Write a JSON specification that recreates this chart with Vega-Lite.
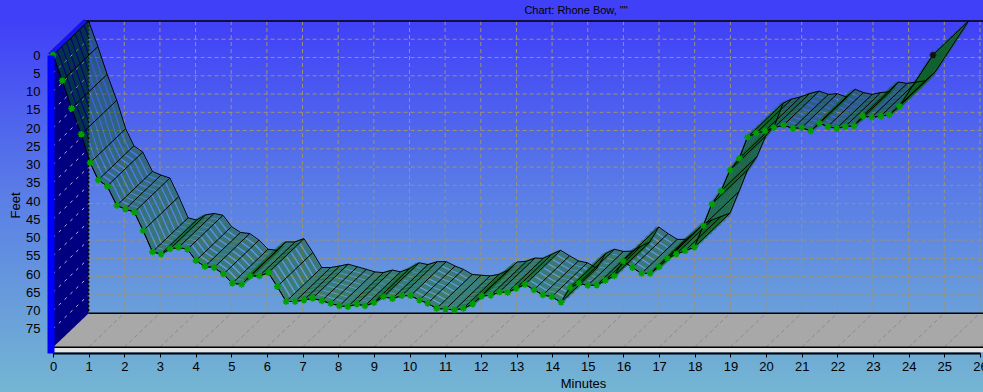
{
  "$schema": "https://vega.github.io/schema/vega-lite/v6.json",
  "width": 983,
  "height": 392,
  "autosize": {"type": "none"},
  "padding": 0,
  "background": "#4040f8",
  "view": {
    "stroke": null,
    "fill": {
      "gradient": "linear",
      "x1": 0, "y1": 0, "x2": 0, "y2": 1,
      "stops": [
        {"offset": 0, "color": "#4040f8"},
        {"offset": 0.054, "color": "#4040f8"},
        {"offset": 0.5, "color": "#5a7ee6"},
        {"offset": 1, "color": "#74b6d2"}
      ]
    }
  },
  "title": {
    "text": "Chart: Rhone Bow, \"\"",
    "anchor": "middle",
    "dx": 84.5,
    "dy": 22,
    "offset": 6,
    "fontSize": 11,
    "fontWeight": "normal",
    "font": "Liberation Sans",
    "color": "black"
  },
  "config": {
    "font": "Liberation Sans",
    "axis": {"labelFont": "Liberation Sans", "titleFont": "Liberation Sans", "grid": false, "labelOverlap": false},
    "axisX": {"tickCount": 27},
    "axisY": {"tickCount": 17}
  },
  "datasets": {
    "p": [
      {"t": 0, "d": 0}, {"t": 0.26, "d": 7}, {"t": 0.52, "d": 14.6}, {"t": 0.79, "d": 21.7},
      {"t": 1.04, "d": 29.5}, {"t": 1.27, "d": 34.2}, {"t": 1.52, "d": 35.9}, {"t": 1.79, "d": 41.2},
      {"t": 2.03, "d": 42.2}, {"t": 2.28, "d": 43.0}, {"t": 2.53, "d": 48.1}, {"t": 2.79, "d": 53.9},
      {"t": 3.03, "d": 54.5}, {"t": 3.28, "d": 53.1}, {"t": 3.52, "d": 52.7}, {"t": 3.77, "d": 53.2},
      {"t": 4.01, "d": 56.3}, {"t": 4.26, "d": 57.9}, {"t": 4.52, "d": 58.2}, {"t": 4.78, "d": 60.0},
      {"t": 5.03, "d": 62.5}, {"t": 5.29, "d": 62.8}, {"t": 5.53, "d": 60.5}, {"t": 5.79, "d": 60.5},
      {"t": 6.04, "d": 59.6}, {"t": 6.29, "d": 63.4}, {"t": 6.54, "d": 67.5}, {"t": 6.79, "d": 67.5},
      {"t": 7.04, "d": 67.1}, {"t": 7.28, "d": 66.6}, {"t": 7.54, "d": 67.3}, {"t": 7.79, "d": 68.0},
      {"t": 8.03, "d": 68.7}, {"t": 8.27, "d": 68.9}, {"t": 8.52, "d": 68.2}, {"t": 8.75, "d": 68.7},
      {"t": 9.0, "d": 67.8}, {"t": 9.27, "d": 66.2}, {"t": 9.52, "d": 66.7}, {"t": 9.78, "d": 65.9},
      {"t": 10.03, "d": 65.9}, {"t": 10.28, "d": 67.1}, {"t": 10.51, "d": 68.0}, {"t": 10.76, "d": 69.4},
      {"t": 11.01, "d": 69.6}, {"t": 11.26, "d": 69.8}, {"t": 11.51, "d": 69.4}, {"t": 11.77, "d": 68.2},
      {"t": 12.02, "d": 66.0}, {"t": 12.28, "d": 65.8}, {"t": 12.52, "d": 64.9}, {"t": 12.75, "d": 65.0},
      {"t": 12.99, "d": 63.9}, {"t": 13.24, "d": 62.8}, {"t": 13.49, "d": 64.3}, {"t": 13.74, "d": 65.7},
      {"t": 13.99, "d": 66.2}, {"t": 14.25, "d": 67.7}, {"t": 14.5, "d": 63.7}, {"t": 14.75, "d": 62.5},
      {"t": 15.0, "d": 63.1}, {"t": 15.25, "d": 63.0}, {"t": 15.49, "d": 61.7}, {"t": 15.74, "d": 60.5},
      {"t": 15.99, "d": 56.4}, {"t": 16.25, "d": 58.2}, {"t": 16.51, "d": 59.8}, {"t": 16.75, "d": 59.8},
      {"t": 17.0, "d": 58.0}, {"t": 17.23, "d": 55.7}, {"t": 17.48, "d": 54.5}, {"t": 17.73, "d": 53.6},
      {"t": 17.99, "d": 52.6}, {"t": 18.24, "d": 46.7}, {"t": 18.48, "d": 40.8}, {"t": 18.74, "d": 37.2},
      {"t": 18.99, "d": 31.5}, {"t": 19.25, "d": 28.3}, {"t": 19.48, "d": 22.5}, {"t": 19.72, "d": 21.4},
      {"t": 19.97, "d": 20.8}, {"t": 20.22, "d": 19.9}, {"t": 20.49, "d": 19.2}, {"t": 20.75, "d": 20.1},
      {"t": 21.0, "d": 19.9}, {"t": 21.25, "d": 20.8}, {"t": 21.5, "d": 18.7}, {"t": 21.73, "d": 19.6},
      {"t": 21.98, "d": 20.1}, {"t": 22.22, "d": 19.6}, {"t": 22.47, "d": 19.4}, {"t": 22.71, "d": 16.7},
      {"t": 22.96, "d": 17.1}, {"t": 23.22, "d": 16.7}, {"t": 23.46, "d": 16.4}, {"t": 23.74, "d": 14.0},
      {"t": 24.68, "d": 0}
    ],
    "gx": [
      {"t": 0}, {"t": 1}, {"t": 2}, {"t": 3}, {"t": 4}, {"t": 5}, {"t": 6}, {"t": 7}, {"t": 8},
      {"t": 9}, {"t": 10}, {"t": 11}, {"t": 12}, {"t": 13}, {"t": 14}, {"t": 15}, {"t": 16},
      {"t": 17}, {"t": 18}, {"t": 19}, {"t": 20}, {"t": 21}, {"t": 22}, {"t": 23}, {"t": 24},
      {"t": 25}, {"t": 26}
    ],
    "gy": [
      {"d": 5}, {"d": 10}, {"d": 15}, {"d": 20}, {"d": 25}, {"d": 30}, {"d": 35}, {"d": 40},
      {"d": 45}, {"d": 50}, {"d": 55}, {"d": 60}, {"d": 65}, {"d": 70}, {"d": 75}
    ],
    "wall": [
      {"t": 0, "d": 0, "bottom": 80},
      {"t": 1, "d": -9.3, "bottom": 70.7}
    ],
    "one": [{}]
  },
  "layer": [
    {
      "data": {"name": "p"},
      "mark": {"type": "line", "color": "black", "strokeWidth": 1},
      "encoding": {
        "x": {
          "field": "t", "type": "quantitative", "title": "Minutes",
          "scale": {"domain": [0, 26], "range": [53, 980], "zero": false, "nice": false},
          "axis": {
            "values": [0,1,2,3,4,5,6,7,8,9,10,11,12,13,14,15,16,17,18,19,20,21,22,23,24,25,26],
            "tickCount": 27,
            "offset": -39, "zindex": 1, "grid": false,
            "domainColor": "black", "domainWidth": 2,
            "tickColor": "black", "tickSize": 4, "tickWidth": 1,
            "labelPadding": 3, "labelFontSize": 13, "labelColor": "black",
            "labelFlush": false, "labelOverlap": false, "labelBound": false,
            "titleX": 583, "titleY": 30, "titleBaseline": "middle",
            "titleFontSize": 13, "titleFontWeight": "normal", "titleColor": "black"
          }
        },
        "y": {
          "field": "d", "type": "quantitative", "title": "Feet",
          "scale": {"domain": [0, 81.6], "range": [55, 353], "zero": false, "nice": false},
          "axis": {
            "values": [0,5,10,15,20,25,30,35,40,45,50,55,60,65,70,75],
            "tickCount": 17,
            "labelExpr": "datum.value > 77 ? '' : datum.label",
            "offset": -50.5, "zindex": 1, "grid": false,
            "domainColor": "#0000ff", "domainWidth": 7,
            "ticks": false, "tickSize": 0,
            "labelPadding": 10.5, "labelFontSize": 13, "labelColor": "black",
            "labelFlush": false, "labelOverlap": false, "labelBound": false,
            "titleX": -35.5, "titleY": 205, "titleBaseline": "middle", "titleAngle": -90,
            "titleFontSize": 13, "titleFontWeight": "normal", "titleColor": "black"
          }
        }
      }
    },
    {
      "data": {"name": "gy"},
      "mark": {"type": "rule", "color": "#9c9470", "strokeWidth": 1, "strokeDash": [4, 3], "xOffset": 35.6, "x2Offset": 35.6, "yOffset": -34},
      "encoding": {
        "y": {"field": "d", "type": "quantitative", "title": "Feet"},
        "x": {"datum": 0, "type": "quantitative", "title": "Minutes"},
        "x2": {"datum": 27}
      }
    },
    {
      "data": {"name": "gx"},
      "mark": {"type": "rule", "color": "#9c9470", "strokeWidth": 1, "strokeDash": [4, 3], "xOffset": 35.6, "yOffset": -34, "y2Offset": -34},
      "encoding": {
        "x": {"field": "t", "type": "quantitative", "title": "Minutes"},
        "y": {"datum": 0, "type": "quantitative", "title": "Feet"},
        "y2": {"datum": 80}
      }
    },
    {
      "data": {"name": "one"},
      "mark": {"type": "rule", "color": "black", "strokeWidth": 1.5, "xOffset": 30, "x2Offset": 35.6, "yOffset": -34},
      "encoding": {
        "y": {"datum": 0, "type": "quantitative", "title": "Feet"},
        "x": {"datum": 0, "type": "quantitative", "title": "Minutes"},
        "x2": {"datum": 27}
      }
    },
    {
      "data": {"name": "one"},
      "mark": {"type": "rect", "color": "#a8a8a8", "yOffset": -34},
      "encoding": {
        "x": {"datum": 0, "type": "quantitative", "title": "Minutes"},
        "x2": {"datum": 27},
        "y": {"datum": 80, "type": "quantitative", "title": "Feet"},
        "y2": {"datum": 80}
      }
    },
    {
      "data": {"name": "gx"},
      "mark": {"type": "rule", "color": "#8a8a8a", "strokeWidth": 1, "strokeDash": [4, 3], "x2Offset": 35.6, "y2Offset": -34},
      "encoding": {
        "x": {"field": "t", "type": "quantitative", "title": "Minutes"},
        "x2": {"field": "t"},
        "y": {"datum": 80, "type": "quantitative", "title": "Feet"},
        "y2": {"datum": 80}
      }
    },
    {
      "data": {"name": "one"},
      "mark": {"type": "rule", "color": "black", "strokeWidth": 1.5, "xOffset": 35.6, "yOffset": -34},
      "encoding": {
        "y": {"datum": 80, "type": "quantitative", "title": "Feet"},
        "x": {"datum": 0, "type": "quantitative", "title": "Minutes"},
        "x2": {"datum": 27}
      }
    },
    {
      "data": {"name": "one"},
      "mark": {"type": "rect", "color": "#e4e4e4"},
      "encoding": {
        "x": {"datum": 0, "type": "quantitative", "title": "Minutes"},
        "x2": {"datum": 27},
        "y": {"datum": 80, "type": "quantitative", "title": "Feet"},
        "y2": {"datum": 81.4}
      }
    },
    {
      "data": {"name": "one"},
      "mark": {"type": "rule", "color": "black", "strokeWidth": 1.5},
      "encoding": {
        "y": {"datum": 80, "type": "quantitative", "title": "Feet"},
        "x": {"datum": 0, "type": "quantitative", "title": "Minutes"},
        "x2": {"datum": 27}
      }
    },
    {
      "data": {"name": "wall"},
      "mark": {"type": "area", "color": "#000080", "opacity": 1},
      "encoding": {
        "x": {"field": "t", "type": "quantitative", "title": "Minutes"},
        "y": {"field": "d", "type": "quantitative", "title": "Feet"},
        "y2": {"field": "bottom"}
      }
    },
    {
      "data": {"name": "gy"},
      "mark": {"type": "rule", "color": "#b8b8d8", "strokeWidth": 1, "strokeDash": [3, 5], "x2Offset": 35.6, "y2Offset": -34},
      "encoding": {
        "x": {"datum": 0, "type": "quantitative", "title": "Minutes"},
        "x2": {"datum": 0},
        "y": {"field": "d", "type": "quantitative", "title": "Feet"},
        "y2": {"field": "d"}
      }
    },
    {
      "data": {"name": "one"},
      "mark": {"type": "rule", "color": "black", "strokeWidth": 1.5, "strokeDash": [2, 2], "xOffset": 35.6, "yOffset": -34, "y2Offset": -34},
      "encoding": {
        "x": {"datum": 0, "type": "quantitative", "title": "Minutes"},
        "y": {"datum": 0, "type": "quantitative", "title": "Feet"},
        "y2": {"datum": 80}
      }
    },
    {
      "data": {"name": "one"},
      "mark": {"type": "rule", "color": "#1414e6", "strokeWidth": 5, "xOffset": -3.2, "x2Offset": 32.4, "y2Offset": -34},
      "encoding": {
        "x": {"datum": 0, "type": "quantitative", "title": "Minutes"},
        "x2": {"datum": 0},
        "y": {"datum": 0, "type": "quantitative", "title": "Feet"},
        "y2": {"datum": 0}
      }
    },
    {"data": {"name": "p"}, "mark": {"type": "line", "color": "#0a6416", "opacity": 0.5, "strokeWidth": 4.5, "strokeCap": "butt", "strokeJoin": "round", "xOffset": 2.225, "yOffset": -2.125},
     "encoding": {"x": {"field": "t", "type": "quantitative", "title": "Minutes"}, "y": {"field": "d", "type": "quantitative", "title": "Feet"}}},
    {"data": {"name": "p"}, "mark": {"type": "line", "color": "#0a6416", "opacity": 0.5, "strokeWidth": 4.5, "strokeCap": "butt", "strokeJoin": "round", "xOffset": 6.675, "yOffset": -6.375},
     "encoding": {"x": {"field": "t", "type": "quantitative", "title": "Minutes"}, "y": {"field": "d", "type": "quantitative", "title": "Feet"}}},
    {"data": {"name": "p"}, "mark": {"type": "line", "color": "#0a6416", "opacity": 0.5, "strokeWidth": 4.5, "strokeCap": "butt", "strokeJoin": "round", "xOffset": 11.125, "yOffset": -10.625},
     "encoding": {"x": {"field": "t", "type": "quantitative", "title": "Minutes"}, "y": {"field": "d", "type": "quantitative", "title": "Feet"}}},
    {"data": {"name": "p"}, "mark": {"type": "line", "color": "#0a6416", "opacity": 0.5, "strokeWidth": 4.5, "strokeCap": "butt", "strokeJoin": "round", "xOffset": 15.575, "yOffset": -14.875},
     "encoding": {"x": {"field": "t", "type": "quantitative", "title": "Minutes"}, "y": {"field": "d", "type": "quantitative", "title": "Feet"}}},
    {"data": {"name": "p"}, "mark": {"type": "line", "color": "#0a6416", "opacity": 0.5, "strokeWidth": 4.5, "strokeCap": "butt", "strokeJoin": "round", "xOffset": 20.025, "yOffset": -19.125},
     "encoding": {"x": {"field": "t", "type": "quantitative", "title": "Minutes"}, "y": {"field": "d", "type": "quantitative", "title": "Feet"}}},
    {"data": {"name": "p"}, "mark": {"type": "line", "color": "#0a6416", "opacity": 0.5, "strokeWidth": 4.5, "strokeCap": "butt", "strokeJoin": "round", "xOffset": 24.475, "yOffset": -23.375},
     "encoding": {"x": {"field": "t", "type": "quantitative", "title": "Minutes"}, "y": {"field": "d", "type": "quantitative", "title": "Feet"}}},
    {"data": {"name": "p"}, "mark": {"type": "line", "color": "#0a6416", "opacity": 0.5, "strokeWidth": 4.5, "strokeCap": "butt", "strokeJoin": "round", "xOffset": 28.925, "yOffset": -27.625},
     "encoding": {"x": {"field": "t", "type": "quantitative", "title": "Minutes"}, "y": {"field": "d", "type": "quantitative", "title": "Feet"}}},
    {"data": {"name": "p"}, "mark": {"type": "line", "color": "#0a6416", "opacity": 0.5, "strokeWidth": 4.5, "strokeCap": "butt", "strokeJoin": "round", "xOffset": 33.375, "yOffset": -31.875},
     "encoding": {"x": {"field": "t", "type": "quantitative", "title": "Minutes"}, "y": {"field": "d", "type": "quantitative", "title": "Feet"}}},
    {
      "data": {"name": "p"},
      "mark": {"type": "rule", "color": "black", "strokeWidth": 1, "x2Offset": 35.6, "y2Offset": -34},
      "encoding": {
        "x": {"field": "t", "type": "quantitative", "title": "Minutes"},
        "x2": {"field": "t"},
        "y": {"field": "d", "type": "quantitative", "title": "Feet"},
        "y2": {"field": "d"}
      }
    },
    {
      "data": {"name": "p"},
      "mark": {"type": "line", "color": "black", "strokeWidth": 1, "xOffset": 35.6, "yOffset": -34},
      "encoding": {
        "x": {"field": "t", "type": "quantitative", "title": "Minutes"},
        "y": {"field": "d", "type": "quantitative", "title": "Feet"}
      }
    },
    {
      "data": {"name": "p"},
      "mark": {"type": "line", "color": "black", "strokeWidth": 1},
      "encoding": {
        "x": {"field": "t", "type": "quantitative", "title": "Minutes"},
        "y": {"field": "d", "type": "quantitative", "title": "Feet"}
      }
    },
    {
      "data": {"name": "p"},
      "transform": [{"filter": "datum.t < 24.5"}],
      "mark": {"type": "point", "shape": "M-1,0L1,0M0,-1L0,1M-0.7,-0.7L0.7,0.7M-0.7,0.7L0.7,-0.7", "filled": false, "stroke": "#00a000", "strokeWidth": 1.6, "size": 45, "opacity": 1},
      "encoding": {
        "x": {"field": "t", "type": "quantitative", "title": "Minutes"},
        "y": {"field": "d", "type": "quantitative", "title": "Feet"}
      }
    },
    {
      "data": {"name": "p"},
      "transform": [{"filter": "datum.t > 24.5"}],
      "mark": {"type": "point", "shape": "M-1,0L1,0M0,-1L0,1M-0.7,-0.7L0.7,0.7M-0.7,0.7L0.7,-0.7", "filled": false, "stroke": "#101010", "strokeWidth": 1.6, "size": 45, "opacity": 1},
      "encoding": {
        "x": {"field": "t", "type": "quantitative", "title": "Minutes"},
        "y": {"field": "d", "type": "quantitative", "title": "Feet"}
      }
    }
  ]
}
